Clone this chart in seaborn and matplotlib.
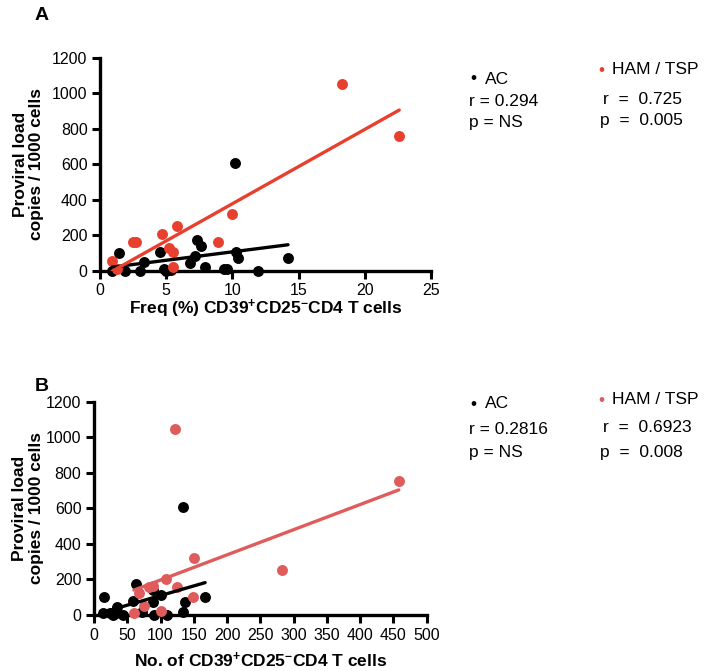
import matplotlib
matplotlib.use("Agg")
import matplotlib.pyplot as plt
import seaborn as sns
import pandas as pd

# ---------------- data ----------------
# Panel A: Freq (%) CD39+CD25- CD4 T cells vs proviral load
ac_freq = [0.9, 1.4, 1.9, 3.0, 3.3, 4.5, 4.8, 5.0, 5.4, 6.8, 7.2, 7.3, 7.6, 7.9,
           9.4, 9.6, 10.2, 10.3, 10.4, 11.9, 14.2]
ac_pvl_a = [0, 99, 0, 0, 48, 107, 8, 0, 4, 41, 83, 173, 141, 22,
            8, 11, 604, 105, 69, 0, 69]
ham_freq = [0.9, 1.3, 2.5, 2.7, 4.7, 5.2, 5.5, 5.5, 5.8, 8.9, 10.0, 18.3, 22.6]
ham_pvl_a = [54, 9, 163, 163, 204, 129, 103, 22, 253, 163, 321, 1050, 756]

# Panel B: No. of CD39+CD25- CD4 T cells vs proviral load
ac_num = [15, 13, 24, 35, 33, 29, 44, 63, 59, 72, 89, 88, 90, 101, 110,
          134, 137, 134, 167]
ac_pvl_b = [103, 13, 10, 47, 13, 0, 0, 172, 81, 19, 141, 71, 0, 112, 0,
            606, 71, 17, 101]
ham_num = [122, 458, 283, 150, 108, 124, 82, 89, 67, 149, 75, 60, 101]
ham_pvl_b = [1046, 754, 251, 319, 200, 159, 159, 163, 126, 99, 51, 13, 24]

x_ticks_a = [0, 5, 10, 15, 20, 25]
x_ticks_b = [0, 50, 100, 150, 200, 250, 300, 350, 400, 450, 500]
y_ticks = [0, 200, 400, 600, 800, 1000, 1200]

stats_a = {"AC": ("r = 0.294", "p = NS"), "HAM": ("r  =  0.725", "p  =  0.005")}
stats_b = {"AC": ("r = 0.2816", "p = NS"), "HAM": ("r  =  0.6923", "p  =  0.008")}

# ---------------- style ----------------
sns.set_style("ticks")
plt.rcParams["font.family"] = ["Liberation Sans", "DejaVu Sans"]
plt.rcParams["mathtext.fontset"] = "custom"
plt.rcParams["mathtext.rm"] = "Liberation Sans:bold"
plt.rcParams["mathtext.bf"] = "Liberation Sans:bold"
plt.rcParams["mathtext.default"] = "bf"
for k in ["text.color", "axes.labelcolor", "xtick.color", "ytick.color",
          "axes.edgecolor"]:
    plt.rcParams[k] = "black"

RED_A = "#e8402f"
RED_B = "#e05c5c"
BLACK = "#000000"

W, H = 709, 671
fig = plt.figure(figsize=(W / 100, H / 100), dpi=100)
fig.patch.set_facecolor("white")


def px(x, y):
    return x / W, 1 - y / H


def style_axes(ax, xticks, xlim, xlabel, xl_y, yl_x):
    ax.set_xlim(*xlim)
    ax.set_ylim(0, 1200)
    ax.set_xticks(xticks)
    ax.set_yticks(y_ticks)
    sns.despine(ax=ax)
    for s in ["left", "bottom"]:
        ax.spines[s].set_linewidth(2.4)
        ax.spines[s].set_color("black")
    ax.tick_params(width=2.2, length=6, labelsize=11.5, pad=3, color="black",
                   labelcolor="black")
    ax.set_xlabel(xlabel, fontsize=12.5, fontweight="bold", color="black")
    ax.xaxis.label.set_va("baseline")
    ax.xaxis.set_label_coords(0.5, xl_y)
    ax.set_ylabel("Proviral load\ncopies / 1000 cells", fontsize=12.5,
                  fontweight="bold", linespacing=1.15, color="black")
    ax.yaxis.set_label_coords(yl_x, 0.5)


def draw(ax, xa, ya, xh, yh, red):
    df_ac = pd.DataFrame({"x": xa, "y": ya})
    df_h = pd.DataFrame({"x": xh, "y": yh})
    skw = {"s": 62, "clip_on": False, "zorder": 4, "linewidths": 0, "alpha": 1}
    sns.regplot(data=df_ac, x="x", y="y", ax=ax, ci=None, color=BLACK,
                scatter_kws=skw, line_kws={"lw": 2.4, "zorder": 5})
    sns.regplot(data=df_h, x="x", y="y", ax=ax, ci=None, color=red,
                scatter_kws=skw, line_kws={"lw": 2.4, "zorder": 5})


def legend_text(stats, red, y_ac, y_ham, y_r, y_p, y_rh, y_ph):
    fs = 12.5
    fig.text(*px(470, y_ac), "\u2022", fontsize=fs, va="center", ha="left", color=BLACK)
    fig.text(*px(485, y_ac), "AC", fontsize=fs, va="center", ha="left")
    fig.text(*px(469, y_r), stats["AC"][0], fontsize=fs, va="center", ha="left")
    fig.text(*px(469, y_p), stats["AC"][1], fontsize=fs, va="center", ha="left")
    fig.text(*px(598, y_ham), "\u2022", fontsize=fs, va="center", ha="left", color=red)
    fig.text(*px(612, y_ham), "HAM / TSP", fontsize=fs, va="center", ha="left")
    fig.text(*px(603, y_rh), stats["HAM"][0], fontsize=fs, va="center", ha="left")
    fig.text(*px(600, y_ph), stats["HAM"][1], fontsize=fs, va="center", ha="left")


# Panel A
axA = fig.add_axes([100 / W, 1 - 270.7 / H, 331 / W, 213.2 / H])
draw(axA, ac_freq, ac_pvl_a, ham_freq, ham_pvl_a, RED_A)
style_axes(axA, x_ticks_a, (0, 25),
           r"Freq (%) CD39$^{+}$CD25$^{-}$CD4 T cells", -0.205, -0.168)

# Panel B
axB = fig.add_axes([94 / W, 1 - 615 / H, 332.7 / W, 213.3 / H])
draw(axB, ac_num, ac_pvl_b, ham_num, ham_pvl_b, RED_B)
style_axes(axB, x_ticks_b, (0, 500),
           r"No. of CD39$^{+}$CD25$^{-}$CD4 T cells", -0.245, -0.15)

for ax in (axA, axB):
    ax.set_facecolor("white")

legend_text(stats_a, RED_A, 79, 70, 101, 122, 100, 120)
legend_text(stats_b, RED_B, 404, 400, 430, 453, 428, 452)

fig.text(*px(35, 15), "A", fontsize=14, fontweight="bold", va="center", ha="left")
fig.text(*px(35, 386), "B", fontsize=14, fontweight="bold", va="center", ha="left")

fig.savefig("out.png", dpi=100, facecolor="white")
